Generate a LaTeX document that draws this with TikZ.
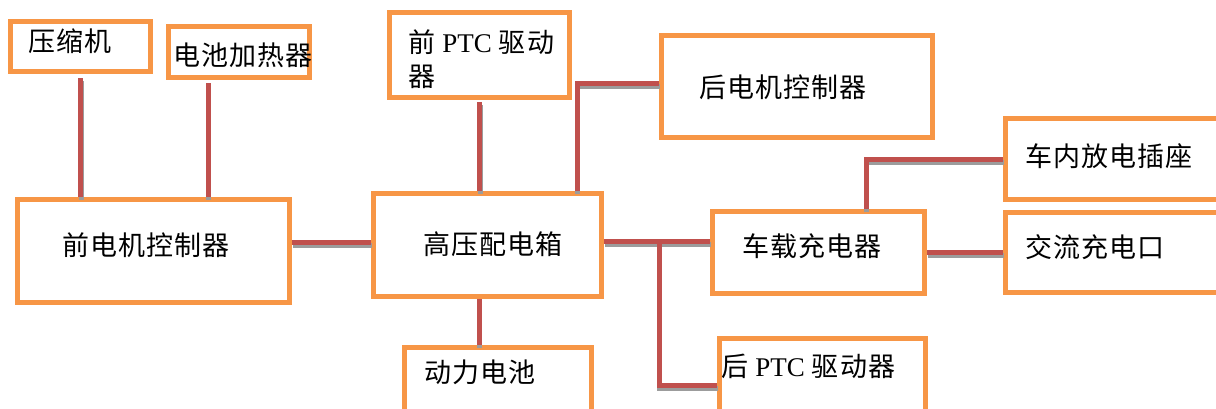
\documentclass[tikz,border=0pt]{standalone}
\usepackage{fontspec}
\setmainfont{Liberation Serif}
\newfontfamily\cjk[LetterSpace=4]{Noto Sans CJK SC}
\usepackage{tikz}
\definecolor{boxorange}{HTML}{F79646}
\definecolor{wirered}{HTML}{C0504D}
\definecolor{wiregray}{HTML}{9C9C9C}
\tikzset{
  box/.style={draw=boxorange, line width=5pt, inner sep=0pt},
  lbl/.style={anchor=west, inner sep=0pt, font=\fontsize{27}{34}\selectfont\cjk},
  wire/.style={draw=wirered, line width=5pt,
    preaction={draw=wiregray, line width=5pt, transform canvas={shift={(0.5pt,-3pt)}}}}
}

\begin{document}
\begin{tikzpicture}[x=1pt,y=-1pt]
                    \useasboundingbox (0,0) rectangle (1216,408);
                    \node[box, minimum width=140, minimum height=50] (ysj) at (80.5,46.5) {};
                    \node[box, minimum width=141, minimum height=51] (dcjr) at (239,52) {};
                    \node[box, minimum width=180, minimum height=85] (qptc) at (479.5,55) {};
                    \node[box, minimum width=271, minimum height=102] (hdj) at (797,86.5) {};
                    \node[box, minimum width=272, minimum height=103] (qdj) at (153.5,251) {};
                    \node[box, minimum width=228, minimum height=103] (gyx) at (487.5,245) {};
                    \node[box, minimum width=212, minimum height=82] (cz) at (818.5,252.5) {};
                    \node[box, minimum width=234.5, minimum height=81] (cnfd) at (1122.75,159) {};
                    \node[box, minimum width=234.5, minimum height=80] (jl) at (1122.75,252.5) {};
                    \node[box, minimum width=187, minimum height=92.5] (dldc) at (498,393.75) {};
                    \node[box, minimum width=206, minimum height=101.5] (hptc) at (822.5,389.25) {};

                    \node[lbl] (ysjtxt) at (28,41) {压缩机};
                    \node[lbl] (dcjrtxt) at (173,55) {电池加热器};
                    \node[lbl, align=left] (qptctxt) at (408,59) {前 {\fontsize{27}{34}\selectfont\rmfamily PTC} 驱动\\器};
                    \node[lbl] (hdjtxt) at (699,87) {后电机控制器};
                    \node[lbl] (qdjtxt) at (62,245) {前电机控制器};
                    \node[lbl] (gyxtxt) at (423,244) {高压配电箱};
                    \node[lbl] (cztxt) at (742,246) {车载充电器};
                    \node[lbl] (cnfdtxt) at (1025,156) {车内放电插座};
                    \node[lbl] (jltxt) at (1025,247) {交流充电口};
                    \node[lbl] (dldctxt) at (424,372) {动力电池};
                    \node[lbl] (hptctxt) at (721,366) {后 {\fontsize{27}{34}\selectfont\rmfamily PTC} 驱动器};

                    \draw[wire, shorten <=4pt] (ysj.south) -- (ysj.south |- qdj.north);
                    \draw[wire, shorten <=3pt] ([xshift=-31]dcjr.south) -- ([xshift=-31]dcjr.south |- qdj.north);
                    \draw[wire, shorten <=2pt] (qptc.south) -- (qptc.south |- gyx.north);
                    \draw[wire] ([yshift=3.5]hdj.west) -| ([xshift=89.5]gyx.north);
                    \draw[wire] ([yshift=3]gyx.west) -- ([yshift=3]gyx.west -| qdj.east);
                    \draw[wire] ([yshift=4]gyx.east) -- ([yshift=4]gyx.east -| cz.west) coordinate[pos=.52] (br);
                    \draw[wire] (br) |- ([yshift=4]hptc.west);
                    \draw[wire] ([xshift=47.5]cz.north) |- (cnfd.west);
                    \draw[wire] (cz.east) -- (cz.east -| jl.west);
                    \draw[wire] ([xshift=-8.5]gyx.south) -- ([xshift=-8.5]gyx.south |- dldc.north);
                \end{tikzpicture}
\end{document}
